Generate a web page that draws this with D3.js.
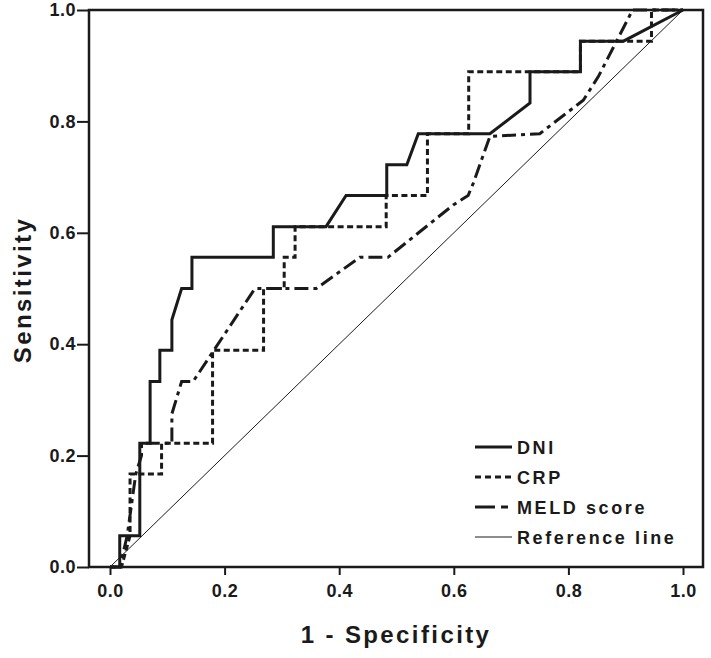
<!DOCTYPE html>
<html><head><meta charset="utf-8">
<script src="https://cdn.jsdelivr.net/npm/d3@7"></script>
<style>body{margin:0;background:#fff}svg{display:block}</style>
</head><body>
<script>
const xTicks = [0, 0.2, 0.4, 0.6, 0.8, 1.0];
const yTicks = [0, 0.2, 0.4, 0.6, 0.8, 1.0];
const seriesNames = ["DNI", "CRP", "MELD score", "Reference line"];
const dniFpr  = [0,0.017,0.017,0.052,0.052,0.07,0.07,0.087,0.087,0.108,0.108,0.125,0.143,0.143,0.285,0.285,0.377,0.412,0.483,0.483,0.518,0.538,0.663,0.733,0.733,0.821,0.821,0.896,1];
const dniTpr  = [0,0,0.056,0.056,0.222,0.222,0.333,0.333,0.389,0.389,0.444,0.5,0.5,0.556,0.556,0.611,0.611,0.667,0.667,0.722,0.722,0.778,0.778,0.833,0.889,0.889,0.944,0.944,1];
const crpFpr  = [0,0.02,0.035,0.035,0.09,0.09,0.179,0.179,0.268,0.268,0.304,0.304,0.323,0.323,0.482,0.482,0.554,0.554,0.626,0.626,0.821,0.821,0.945,0.945,1];
const crpTpr  = [0,0,0.056,0.167,0.167,0.222,0.222,0.389,0.389,0.5,0.5,0.556,0.556,0.611,0.611,0.667,0.667,0.778,0.778,0.889,0.889,0.944,0.944,1,1];
const meldFpr = [0,0.017,0.03,0.04,0.045,0.055,0.055,0.108,0.108,0.125,0.145,0.253,0.36,0.436,0.485,0.599,0.625,0.634,0.663,0.75,0.826,0.852,0.912,1];
const meldTpr = [0,0,0.056,0.13,0.167,0.2,0.222,0.222,0.275,0.333,0.333,0.5,0.5,0.556,0.556,0.65,0.667,0.689,0.773,0.778,0.838,0.88,1,1];
const refFpr = [0,1], refTpr = [0,1];

const W = 711, H = 658;
const svg = d3.select("body").append("svg").attr("width", W).attr("height", H);
const x = d3.scaleLinear().domain([0,1]).range([110,683]);
const y = d3.scaleLinear().domain([0,1]).range([567,10]);
const frame = {l:89, r:703, t:10, b:567};
const ink = "#1a1a1a";
const font = "Arial, 'Liberation Sans', sans-serif";

// frame
svg.append("rect").attr("x",frame.l).attr("y",frame.t).attr("width",frame.r-frame.l).attr("height",frame.b-frame.t)
  .attr("fill","none").attr("stroke",ink).attr("stroke-width",2.5);

// axes
const xa = svg.append("g").attr("transform",`translate(0,${frame.b})`)
  .call(d3.axisBottom(x).tickValues(xTicks).tickFormat(d3.format(".1f")).tickSize(8).tickSizeOuter(0).tickPadding(9));
xa.select(".domain").remove();
const ya = svg.append("g").attr("transform",`translate(${frame.l},0)`)
  .call(d3.axisLeft(y).tickValues(yTicks).tickFormat(d3.format(".1f")).tickSize(12).tickSizeOuter(0).tickPadding(1));
ya.select(".domain").remove();
[xa, ya].forEach(g => {
  g.selectAll("line").attr("stroke",ink).attr("stroke-width",2);
  g.selectAll("text").attr("fill",ink).style("font-family",font).style("font-weight","bold")
    .style("font-size","18px").style("letter-spacing","0.5px");
});

// titles
svg.append("text").attr("x",396).attr("y",643).attr("text-anchor","middle")
  .style("font-family",font).style("font-weight","bold").style("font-size","24px").style("letter-spacing","2.4px")
  .attr("fill",ink).text("1 - Specificity");
svg.append("text").attr("transform","translate(31,290) rotate(-90)").attr("text-anchor","middle")
  .style("font-family",font).style("font-weight","bold").style("font-size","24px").style("letter-spacing","2.4px")
  .attr("fill",ink).text("Sensitivity");

const line = d3.line().x(d=>x(d[0])).y(d=>y(d[1]));
const styles = [
  {w:3, dash:null, leg:null},
  {w:3, dash:"6,3.5", leg:"6,4"},
  {w:3, dash:"14,5,4,5", leg:"20,6,7,20"},
  {w:1, dash:null, leg:null}
];
const data = [
  d3.zip(dniFpr, dniTpr),
  d3.zip(crpFpr, crpTpr),
  d3.zip(meldFpr, meldTpr),
  d3.zip(refFpr, refTpr)
];
[3,2,1,0].forEach(i => {
  svg.append("path").datum(data[i]).attr("d",line).attr("fill","none").attr("stroke",ink)
    .attr("stroke-width",styles[i].w).attr("stroke-dasharray",styles[i].dash).attr("stroke-linejoin","miter");
});

// legend
const lg = svg.append("g");
seriesNames.forEach((n,i) => {
  const yy = 447 + i*30;
  lg.append("line").attr("x1",475).attr("x2",512).attr("y1",yy).attr("y2",yy).attr("stroke",ink)
    .attr("stroke-width",styles[i].w).attr("stroke-dasharray",styles[i].leg);
  lg.append("text").attr("x",517).attr("y",yy+6.5).style("font-family",font).style("font-weight","bold")
    .style("font-size","18px").style("letter-spacing","2.6px").attr("fill",ink).text(n);
});
</script>
</body></html>
